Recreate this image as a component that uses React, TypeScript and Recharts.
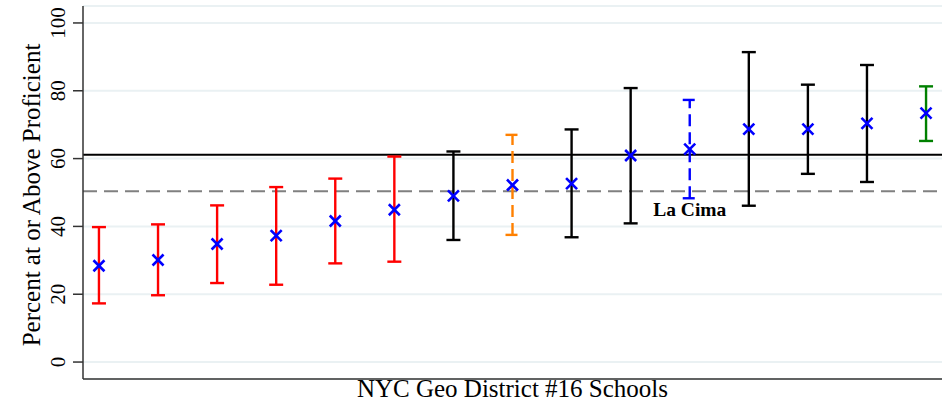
import {
  CartesianGrid,
  ComposedChart,
  ErrorBar,
  Label,
  ReferenceDot,
  ReferenceLine,
  Scatter,
  XAxis,
  YAxis
} from "recharts";

// school rank along the x axis
const schools = [1, 2, 3, 4, 5, 6, 7, 8, 9, 10, 11, 12, 13, 14, 15];
const means = [28.4, 30.1, 34.8, 37.3, 41.6, 44.9, 49.0, 52.2, 52.6, 60.9, 62.8, 68.7, 68.7, 70.4, 73.4];
const lows = [17.3, 19.7, 23.3, 22.8, 29.1, 29.6, 36.0, 37.5, 36.8, 40.9, 48.3, 46.1, 55.5, 53.1, 65.2];
const highs = [39.8, 40.6, 46.2, 51.6, 54.1, 60.6, 62.1, 67.0, 68.6, 80.8, 77.3, 91.4, 81.8, 87.6, 81.3];
// which group each school's interval belongs to
const groups = ["low", "low", "low", "low", "low", "low", "mid", "orange", "mid", "mid", "lacima", "mid", "mid", "mid", "high"];

const groupStyles = [
  { key: "low", color: "#ff0000", dash: undefined },
  { key: "mid", color: "#000000", dash: undefined },
  { key: "orange", color: "#ff8000", dash: "12 6" },
  { key: "lacima", color: "#0000ff", dash: "12 6" },
  { key: "high", color: "#008000", dash: undefined }
];

const yTicks = [0, 20, 40, 60, 80, 100];
const districtAverage = 61.1;
const cityAverage = 50.4;
const annotation = { x: 11, y: 43.1, text: "La Cima" };

const serif = "'Liberation Serif', 'Times New Roman', serif";

const rows = schools.map((x, i) => ({
  x,
  y: means[i],
  err: [means[i] - lows[i], highs[i] - means[i]],
  group: groups[i]
}));

const CrossMarker = (props: any) => {
  const { cx, cy } = props;
  const s = 5.5;
  return (
    <g stroke="#0000ff" strokeWidth={2.6}>
      <line x1={cx - s} y1={cy - s} x2={cx + s} y2={cy + s} />
      <line x1={cx - s} y1={cy + s} x2={cx + s} y2={cy - s} />
    </g>
  );
};

const YTick = (props: any) => {
  const { y, payload } = props;
  const tx = 58.5;
  return (
    <text
      x={tx}
      y={y}
      transform={`rotate(-90 ${tx} ${y})`}
      textAnchor="middle"
      dominantBaseline="central"
      fontFamily={serif}
      fontSize={21}
      fill="#000"
    >
      {payload.value}
    </text>
  );
};

export default function App() {
  return (
    <div style={{ position: "absolute", left: 0, top: 0, background: "#fff" }}>
      <ComposedChart width={942} height={403} margin={{ top: 6, right: 0, bottom: 0, left: 0 }}>
        <CartesianGrid vertical={false} stroke="#eaf1f3" strokeWidth={2} />
        <XAxis
          type="number"
          dataKey="x"
          domain={[0.73, 15.27]}
          allowDataOverflow
          tick={false}
          tickLine={false}
          height={24}
          stroke="#333"
          strokeWidth={1.5}
        >
          <Label
            content={(p: any) => (
              <text
                x={p.viewBox.x + p.viewBox.width / 2}
                y={397}
                textAnchor="middle"
                fontFamily={serif}
                fontSize={25}
                fill="#000"
              >
                NYC Geo District #16 Schools
              </text>
            )}
          />
        </XAxis>
        <YAxis
          type="number"
          domain={[-5, 105]}
          ticks={yTicks}
          width={83}
          tickSize={10}
          tick={<YTick />}
          stroke="#333"
          strokeWidth={1.5}
        >
          <Label
            content={() => {
              const lx = 31;
              const cy = 195;
              return (
                <text
                  x={lx}
                  y={cy}
                  transform={`rotate(-90 ${lx} ${cy})`}
                  textAnchor="middle"
                  dominantBaseline="central"
                  fontFamily={serif}
                  fontSize={25}
                  fill="#000"
                >
                  Percent at or Above Proficient
                </text>
              );
            }}
          />
        </YAxis>
        <ReferenceLine y={districtAverage} stroke="#000" strokeWidth={2} />
        <ReferenceLine y={cityAverage} stroke="#808080" strokeWidth={2} strokeDasharray="14 7" />
        {groupStyles.map((g) => (
          <Scatter
            key={g.key}
            data={rows.filter((r) => r.group === g.key)}
            dataKey="y"
            shape={<CrossMarker />}
            isAnimationActive={false}
          >
            <ErrorBar
              dataKey="err"
              direction="y"
              width={7}
              stroke={g.color}
              strokeWidth={2.4}
              strokeDasharray={g.dash}
            />
          </Scatter>
        ))}
        <ReferenceDot
          x={annotation.x}
          y={annotation.y}
          r={0}
          shape={(p: any) => (
            <text
              x={p.cx}
              y={p.cy}
              textAnchor="middle"
              fontFamily={serif}
              fontWeight="bold"
              fontSize={19.5}
              fill="#000"
            >
              {annotation.text}
            </text>
          )}
        />
      </ComposedChart>
    </div>
  );
}
